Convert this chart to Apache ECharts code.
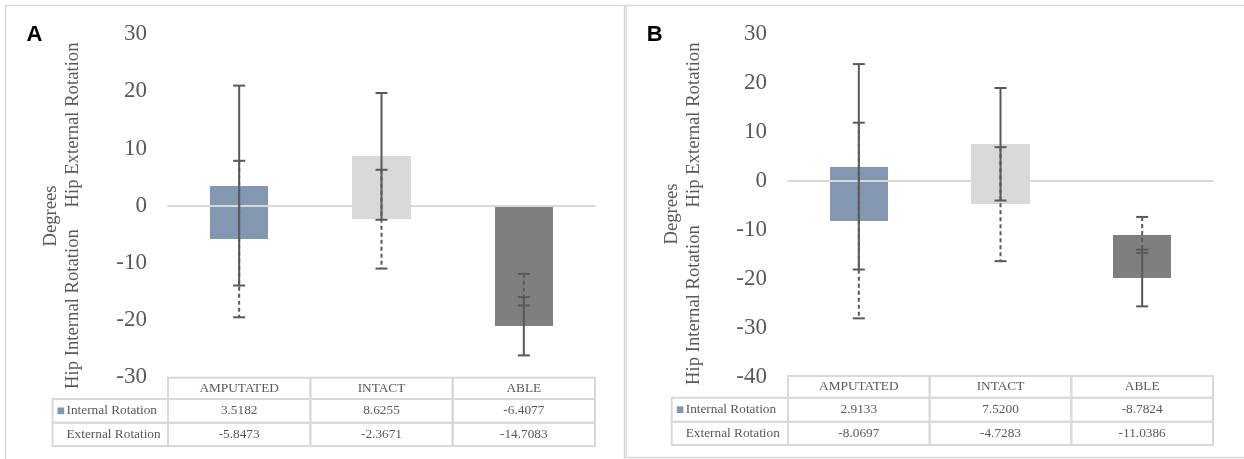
<!DOCTYPE html>
<html>
<head>
<meta charset="utf-8">
<script src="https://cdn.jsdelivr.net/npm/echarts@6/dist/echarts.min.js"></script>
<style>
  html, body { margin: 0; padding: 0; background: #ffffff; }
  #chart { width: 1244px; height: 459px; }
</style>
</head>
<body>
<div id="chart"></div>
<script>
// ---------------- DATA ----------------
const categories = ['AMPUTATED', 'INTACT', 'ABLE'];
const seriesNames = ['Internal Rotation', 'External Rotation'];

// Panel A
const internalA = [3.5182, 8.6255, -6.4077];
const externalA = [-5.8473, -2.3671, -14.7083];
const internalSdA = [17.5, 11.1, 5.1];
const externalSdA = [13.7, 8.65, 2.77];
const yRangeA = [-30, 30, 10];   // min, max, interval

// Panel B
const internalB = [2.9133, 7.5200, -8.7824];
const externalB = [-8.0697, -4.7283, -11.0386];
const internalSdB = [21.0, 11.5, 5.8];
const externalSdB = [20.0, 11.65, 3.7];
const yRangeB = [-40, 30, 10];

const panelLetters = ['A', 'B'];
const axisTitleLines = ['Degrees', 'Hip Internal Rotation', 'Hip External Rotation'];

// ---------------- STYLE / LAYOUT ----------------
const W = 1244, H = 459;
const barColors = ['#8497B0', '#D9D9D9', '#7F7F7F'];
const textColor = '#595959';
const lineGray = '#D9D9D9';
const serif = '"Liberation Serif", "Times New Roman", serif';
const barFrac = 0.41;

const panels = [
  {
    letter: panelLetters[0], internal: internalA, external: externalA,
    internalSd: internalSdA, externalSd: externalSdA, yRange: yRangeA,
    grid: { left: 168, right: W - 595, top: 34.3, bottom: H - 377 },
    rows: [377.7, 399, 422.7, 446], legendLeft: 52.5,
    letterPos: [34.5, 35], degreesX: 51.5, degreesY: 216, hipX: 73, hipIntY: 309, hipExtY: 125,
    hideExternal: [false, false, false]
  },
  {
    letter: panelLetters[1], internal: internalB, external: externalB,
    internalSd: internalSdB, externalSd: externalSdB, yRange: yRangeB,
    grid: { left: 788, right: W - 1213, top: 34.3, bottom: H - 376.7 },
    rows: [376, 397.7, 421.7, 445], legendLeft: 671.7,
    letterPos: [654.7, 35], degreesX: 671.7, degreesY: 214, hipX: 693.6, hipIntY: 305, hipExtY: 125,
    hideExternal: [false, false, true]
  }
];

const chart = echarts.init(document.getElementById('chart'), null, { renderer: 'canvas', width: W, height: H });

const grids = [], xAxes = [], yAxes = [], series = [], graphic = [];

// panel borders
graphic.push({ type: 'rect', shape: { x: 5.5, y: 5.5, width: 619, height: 470 },
  style: { fill: 'none', stroke: lineGray, lineWidth: 1.5 }, silent: true, z: 0 });
graphic.push({ type: 'rect', shape: { x: 626, y: 5.5, width: 640, height: 452 },
  style: { fill: 'none', stroke: lineGray, lineWidth: 1.5 }, silent: true, z: 0 });

function sameSign(a, b) { return (a >= 0 && b >= 0) || (a < 0 && b < 0); }

// stacked floating bars: External segment from 0, Internal stacked on it when same sign
function barRender(hidden) {
  return function (params, api) {
    const i = api.value(0), ext = api.value(1), intv = api.value(2);
    const segs = [];
    if (!hidden[i]) segs.push([0, ext]);
    if (sameSign(intv, ext)) segs.push([ext, ext + intv]); else segs.push([0, intv]);
    const w = api.size([1, 0])[0] * barFrac;
    const cx = api.coord([i, 0])[0];
    const x0 = Math.round(cx - w / 2), x1 = Math.round(cx + w / 2);
    const children = segs.map(s => {
      const ya = Math.round(api.coord([i, s[0]])[1]);
      const yb = Math.round(api.coord([i, s[1]])[1]);
      return { type: 'rect', shape: { x: x0, y: Math.min(ya, yb), width: x1 - x0, height: Math.abs(yb - ya) },
        style: { fill: barColors[i] } };
    });
    return { type: 'group', children: children };
  };
}

function errRender(dashed) {
  return function (params, api) {
    const x = api.value(0), c = api.value(1), sd = api.value(2);
    const top = api.coord([x, c + sd]);
    const bot = api.coord([x, c - sd]);
    const w = 6;
    const solid = { stroke: '#595959', lineWidth: 2 };
    const main = dashed ? { stroke: '#595959', lineWidth: 2, lineDash: [4, 3] } : solid;
    return {
      type: 'group',
      children: [
        { type: 'line', shape: { x1: top[0], y1: top[1], x2: bot[0], y2: bot[1] }, style: main },
        { type: 'line', shape: { x1: top[0] - w, y1: top[1], x2: top[0] + w, y2: top[1] }, style: solid },
        { type: 'line', shape: { x1: bot[0] - w, y1: bot[1], x2: bot[0] + w, y2: bot[1] }, style: solid }
      ]
    };
  };
}

panels.forEach((p, gi) => {
  grids.push(Object.assign({ containLabel: false }, p.grid));
  xAxes.push({
    type: 'category', gridIndex: gi, data: categories, z: 3,
    axisLine: { show: true, onZero: true, lineStyle: { color: lineGray, width: 2 } },
    axisTick: { show: false }, axisLabel: { show: false }, splitLine: { show: false }
  });
  yAxes.push({
    type: 'value', gridIndex: gi, min: p.yRange[0], max: p.yRange[1], interval: p.yRange[2],
    axisLine: { show: false }, axisTick: { show: false }, splitLine: { show: false },
    axisLabel: { fontFamily: serif, fontSize: 23, color: textColor, margin: 21 }
  });

  // bars (External + Internal, stacked)
  series.push({
    type: 'custom', name: seriesNames.join(' / '), xAxisIndex: gi, yAxisIndex: gi, z: 2, clip: false,
    renderItem: barRender(p.hideExternal), encode: { x: 0, y: [1, 2] },
    data: categories.map((c, i) => [i, p.external[i], p.internal[i]])
  });

  // error bars
  series.push({
    type: 'custom', xAxisIndex: gi, yAxisIndex: gi, z: 5, clip: false,
    renderItem: errRender(true), encode: { x: 0, y: 1 },
    data: p.external.map((v, i) => [i, v, p.externalSd[i]])
  });
  series.push({
    type: 'custom', xAxisIndex: gi, yAxisIndex: gi, z: 6, clip: false,
    renderItem: errRender(false), encode: { x: 0, y: 1 },
    data: p.internal.map((v, i) => [i, sameSign(v, p.external[i]) ? v + p.external[i] : v, p.internalSd[i]])
  });

  // panel letter
  graphic.push({ type: 'text', x: p.letterPos[0], y: p.letterPos[1], silent: true,
    style: { text: p.letter, font: 'bold 22px "Liberation Sans", Arial, sans-serif', fill: '#000000',
      textAlign: 'center', textVerticalAlign: 'middle' } });

  // axis title
  const titleFont = '18.7px ' + serif;
  graphic.push({ type: 'text', x: p.degreesX, y: p.degreesY, rotation: Math.PI / 2, silent: true,
    style: { text: axisTitleLines[0], font: titleFont, fill: textColor, textAlign: 'center', textVerticalAlign: 'middle' } });
  graphic.push({ type: 'text', x: p.hipX, y: p.hipIntY, rotation: Math.PI / 2, silent: true,
    style: { text: axisTitleLines[1], font: titleFont, fill: textColor, textAlign: 'center', textVerticalAlign: 'middle' } });
  graphic.push({ type: 'text', x: p.hipX, y: p.hipExtY, rotation: Math.PI / 2, silent: true,
    style: { text: axisTitleLines[2], font: titleFont, fill: textColor, textAlign: 'center', textVerticalAlign: 'middle' } });

  // data table
  const colLeft = p.grid.left, colRight = W - p.grid.right;
  const colW = (colRight - colLeft) / categories.length;
  const cellStyle = { fill: 'none', stroke: lineGray, lineWidth: 2 };
  const tFont = '13.3px ' + serif;
  const r = p.rows;
  categories.forEach((c, i) => {
    const x0 = colLeft + i * colW;
    for (let row = 0; row < 3; row++) {
      graphic.push({ type: 'rect', silent: true, z: 1,
        shape: { x: x0, y: r[row], width: colW, height: r[row + 1] - r[row] }, style: cellStyle });
    }
    graphic.push({ type: 'text', x: x0 + colW / 2, y: (r[0] + r[1]) / 2, silent: true,
      style: { text: c, font: tFont, fill: textColor, textAlign: 'center', textVerticalAlign: 'middle' } });
    graphic.push({ type: 'text', x: x0 + colW / 2, y: (r[1] + r[2]) / 2, silent: true,
      style: { text: p.internal[i].toFixed(4), font: tFont, fill: textColor, textAlign: 'center', textVerticalAlign: 'middle' } });
    graphic.push({ type: 'text', x: x0 + colW / 2, y: (r[2] + r[3]) / 2, silent: true,
      style: { text: p.external[i].toFixed(4), font: tFont, fill: textColor, textAlign: 'center', textVerticalAlign: 'middle' } });
  });
  for (let row = 1; row < 3; row++) {
    graphic.push({ type: 'rect', silent: true, z: 1,
      shape: { x: p.legendLeft, y: r[row], width: colLeft - p.legendLeft, height: r[row + 1] - r[row] }, style: cellStyle });
  }
  // legend keys
  graphic.push({ type: 'rect', silent: true, z: 2,
    shape: { x: p.legendLeft + 5, y: (r[1] + r[2]) / 2 - 3.4, width: 6.7, height: 6.7 }, style: { fill: barColors[0] } });
  graphic.push({ type: 'text', x: p.legendLeft + 14, y: (r[1] + r[2]) / 2, silent: true,
    style: { text: seriesNames[0], font: tFont, fill: textColor, textAlign: 'left', textVerticalAlign: 'middle' } });
  graphic.push({ type: 'text', x: p.legendLeft + 14, y: (r[2] + r[3]) / 2, silent: true,
    style: { text: seriesNames[1], font: tFont, fill: textColor, textAlign: 'left', textVerticalAlign: 'middle' } });
});

chart.setOption({
  animation: false,
  backgroundColor: '#ffffff',
  grid: grids,
  xAxis: xAxes,
  yAxis: yAxes,
  series: series,
  graphic: graphic
});
</script>
</body>
</html>
